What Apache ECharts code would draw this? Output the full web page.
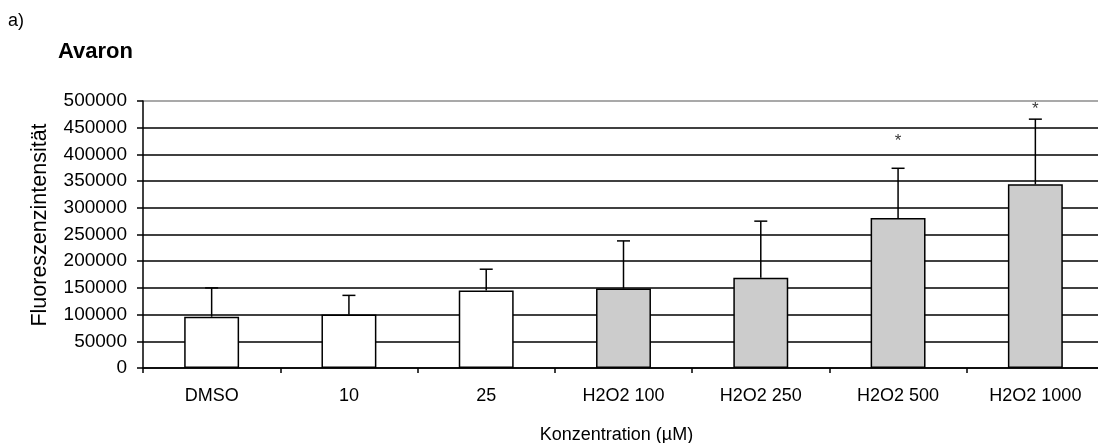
<!DOCTYPE html>
<html>
<head>
<meta charset="utf-8">
<script src="https://cdn.jsdelivr.net/npm/echarts@6/dist/echarts.min.js"></script>
<style>
  html, body { margin: 0; padding: 0; background: #ffffff; }
  #chart { width: 1098px; height: 443px; }
</style>
</head>
<body>
<div id="chart"></div>
<script>
// Fluorescence intensity per treatment (mean + upper SD)
const categories = ['DMSO', '10', '25', 'H2O2 100', 'H2O2 250', 'H2O2 500', 'H2O2 1000'];
const means      = [96000, 100000, 145000, 149000, 169000, 281000, 344000];
const errors     = [54000, 36000, 40000, 89000, 106000, 93000, 122000];
const isPeroxide = [false, false, false, true, true, true, true];
const significance = ['', '', '', '', '', '*', '*'];
const starLevels   = [0, 0, 0, 0, 0, 425000, 485000];
const yTicks = [0, 50000, 100000, 150000, 200000, 250000, 300000, 350000, 400000, 450000, 500000];

const FONT = '"Liberation Sans", Arial, sans-serif';

const barData = means.map((v, i) => ({
  value: v,
  itemStyle: { color: isPeroxide[i] ? '#cccccc' : '#ffffff' }
}));

const errData = means.map((v, i) => [i, v, v + errors[i]]);

const starData = [];
significance.forEach((s, i) => { if (s) starData.push({ value: [i, starLevels[i]], mark: s }); });

const gridColors = yTicks.map((t, i) => (i === yTicks.length - 1 ? '#8c8c8c' : '#000000'));

const chart = echarts.init(document.getElementById('chart'), null, { renderer: 'canvas' });
chart.setOption({
  animation: false,
  backgroundColor: '#ffffff',
  graphic: [
    { type: 'text', left: 8, top: 12, style: { text: 'a)', font: '18px ' + FONT, fill: '#000' } },
    { type: 'text', left: 58, top: 41, style: { text: 'Avaron', font: 'bold 22px ' + FONT, fill: '#000' } },
    // y axis title, rotated
    { type: 'text', x: 40, y: 225, rotation: Math.PI / 2,
      style: { text: 'Fluoreszenzintensität', font: '21.5px ' + FONT, fill: '#000',
               textAlign: 'center', textVerticalAlign: 'middle' } }
  ],
  grid: { left: 143, right: -6, top: 101, bottom: 75, containLabel: false, outerBoundsMode: 'none' },
  xAxis: {
    type: 'category',
    data: categories,
    boundaryGap: true,
    name: 'Konzentration (µM)',
    nameLocation: 'middle',
    nameGap: 58,
    nameTextStyle: { fontFamily: FONT, fontSize: 18, color: '#000', padding: [0, 14, 0, 0] },
    axisLine: { lineStyle: { color: '#000', width: 1.5 } },
    axisTick: { show: true, length: 5, interval: 0, lineStyle: { color: '#000', width: 1.5 } },
    axisLabel: { fontFamily: FONT, fontSize: 18, color: '#000', margin: 19, interval: 0 },
    splitLine: { show: false }
  },
  yAxis: {
    type: 'value',
    min: 0,
    max: 500000,
    interval: 50000,
    axisLine: { show: true, lineStyle: { color: '#000', width: 1.5 } },
    axisTick: { show: true, length: 6, lineStyle: { color: '#000', width: 1.5 } },
    axisLabel: { fontFamily: FONT, fontSize: 19, color: '#000', margin: 16, formatter: v => String(v) },
    splitLine: { show: true, lineStyle: { color: gridColors, width: 1.5 } }
  },
  series: [
    {
      type: 'bar',
      data: barData,
      barWidth: '40%',
      itemStyle: { borderColor: '#000', borderWidth: 1.5 },
      z: 2
    },
    {
      type: 'custom',
      data: errData,
      z: 3,
      renderItem: function (params, api) {
        const base = api.coord([api.value(0), api.value(1)]);
        const top = api.coord([api.value(0), api.value(2)]);
        const half = 6.5;
        return {
          type: 'group',
          children: [
            { type: 'line', shape: { x1: base[0], y1: base[1], x2: top[0], y2: top[1] },
              style: { stroke: '#000', lineWidth: 1.5 } },
            { type: 'line', shape: { x1: top[0] - half, y1: top[1], x2: top[0] + half, y2: top[1] },
              style: { stroke: '#000', lineWidth: 1.5 } }
          ]
        };
      }
    },
    {
      type: 'scatter',
      data: starData,
      symbolSize: 0,
      z: 4,
      label: {
        show: true,
        position: 'inside',
        formatter: p => p.data.mark,
        fontFamily: FONT,
        fontSize: 17,
        color: '#000'
      }
    }
  ]
});
</script>
</body>
</html>
